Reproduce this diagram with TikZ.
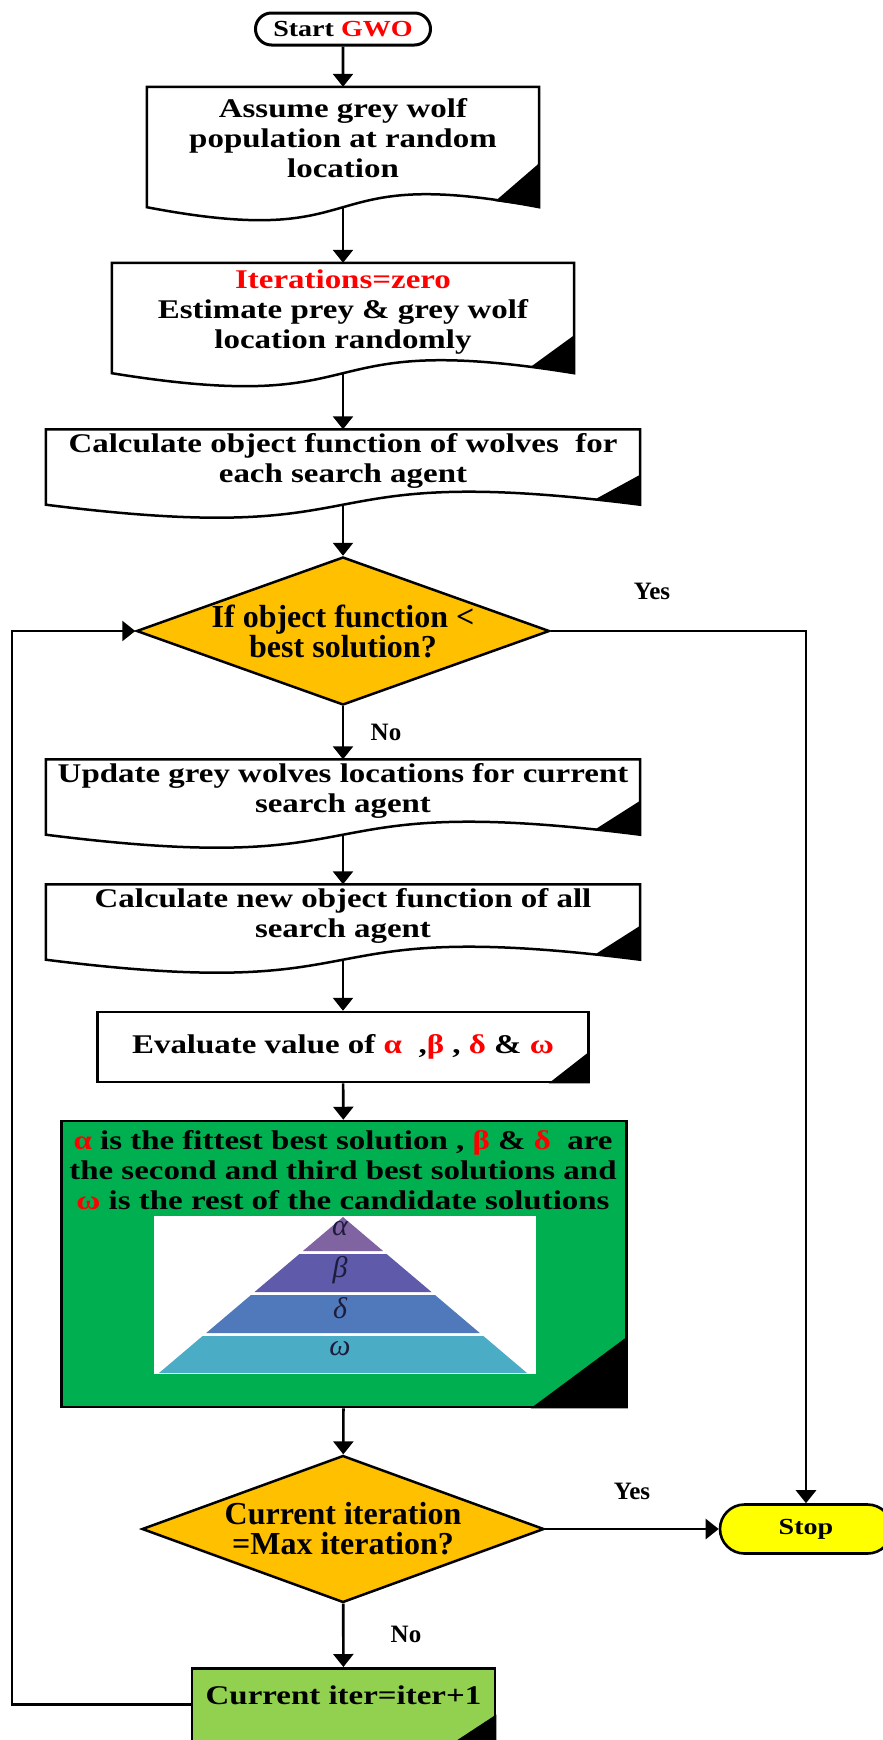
\documentclass[tikz,border=0pt]{standalone}
\usepackage{fontspec}
\setmainfont{Liberation Serif}[FakeStretch=1.22]
\newfontfamily\decfont{Liberation Serif}
\usetikzlibrary{arrows.meta,shapes.geometric,shapes.misc,calc}

\definecolor{gwored}{HTML}{FF0000}
\definecolor{decorange}{HTML}{FFC000}
\definecolor{rankgreen}{HTML}{00B050}
\definecolor{itergreen}{HTML}{92D050}
\definecolor{stopyellow}{HTML}{FFFF00}
\definecolor{pyra}{HTML}{8064A2}
\definecolor{pyrb}{HTML}{5F5BAA}
\definecolor{pyrd}{HTML}{5079BB}
\definecolor{pyrw}{HTML}{4BACC6}
\definecolor{pyrtext}{HTML}{1C1C3C}

\newcommand{\red}[1]{\textcolor{gwored}{#1}}
\newcommand{\lift}{\rule[-18pt]{0pt}{0pt}}
\newcommand{\wavebox}[2][36]{%
  \draw[line width=2.5pt] (#2.south east) -- (#2.north east) -- (#2.north west) -- (#2.south west)
    .. controls ($(#2.south west)!0.6!(#2.south east)+(0,45)$) and ($(#2.south east)!0.6!(#2.south west)+(0,-45)$) .. (#2.south east) -- cycle;
  \fill ($(#2.south east)+(0,-#1)$) -- (#2.south east) -- ($(#2.south east)+(-44,-6)$) -- cycle;}
\newcommand{\corner}[3]{%
  \fill (#1.south east) -- ++(-#2,0) -- ($(#1.south east)+(0,-#3)$) -- cycle;}

\begin{document}
\begin{tikzpicture}[x=1pt,y=-1pt,>={Triangle[length=13pt,width=20pt]},
  every node/.style={font=\fontsize{27}{30}\selectfont\bfseries},
  docbox/.style={align=center,inner sep=0pt},
  plainbox/.style={rectangle,draw,line width=2.5pt,inner sep=0pt,align=center},
  decision/.style={diamond,draw,line width=2.5pt,fill=decorange,inner sep=0pt,aspect=2.8,align=center,
    font=\decfont\fontsize{32}{30}\selectfont\bfseries},
  answer/.style={font=\decfont\fontsize{25}{25}\selectfont\bfseries},
  rankletter/.style={text=pyrtext,inner sep=0pt,font=\decfont\fontsize{30}{30}\selectfont\itshape},
  flowline/.style={line width=2.6pt}]

\useasboundingbox[fill=white] (0,0) rectangle (883,1740);

\node[rounded rectangle,draw,line width=3pt,minimum width=175pt,minimum height=32pt,inner sep=0pt,
  font=\fontsize{23}{25}\selectfont\bfseries] (start) at (343,29) {Start \red{GWO}};

\node[docbox,minimum width=392pt,minimum height=120pt] (locate) at (343,147)
{Assume grey wolf\\population at random\\location\lift};
\wavebox[44]{locate}

\node[docbox,minimum width=462pt,minimum height=110pt] (estimate) at (343,318)
{\red{Iterations=zero}\\Estimate prey \& grey wolf\\location randomly\lift};
\wavebox[38]{estimate}

\node[docbox,minimum width=594pt,minimum height=75pt] (objfun) at (343,467)
{Calculate object function of wolves\ \ for\\each search agent\lift};
\wavebox[30]{objfun}

\node[decision,minimum width=413pt,minimum height=148pt] (best) at (343,631)
{If object function <\\best solution?};

\node[docbox,minimum width=594pt,minimum height=75pt] (update) at (343,797)
{Update grey wolves locations for current\\search agent\lift};
\wavebox[34]{update}

\node[docbox,minimum width=594pt,minimum height=75pt] (newfun) at (343,922)
{Calculate new object function of all\\search agent\lift};
\wavebox[34]{newfun}

\node[plainbox,minimum width=491pt,minimum height=70pt] (evaluate) at (343,1047)
{Evaluate value of \red{α}\ \ ,\red{β} , \red{δ} \& \red{ω}};
\corner{evaluate}{41}{32}

\node[plainbox,fill=rankgreen,minimum width=565pt,minimum height=286pt] (rank) at (344,1264) {};
\node[align=center,inner sep=0pt] (ranktext) at (343,1170)
{\red{α} is the fittest best solution , \red{β} \& \red{δ}\ \ are\\
the second and third best solutions and\\
\red{ω} is the rest of the candidate solutions};
\node[fill=white,minimum width=382pt,minimum height=158pt,inner sep=0pt] (pyramid) at (345,1295) {};
\fill[pyra] (343,1217) -- (383.1,1251) -- (302.9,1251) -- cycle;
\fill[pyrb] (299.4,1254) -- (386.6,1254) -- (431.5,1292) -- (254.5,1292) -- cycle;
\fill[pyrd] (251,1295) -- (435,1295) -- (479.8,1333) -- (206.2,1333) -- cycle;
\fill[pyrw] (202.6,1336) -- (483.4,1336) -- (527,1373) -- (159,1373) -- cycle;
\node[rankletter] (alpha) at (340,1229) {α};
\node[rankletter] (beta) at (340,1270) {β};
\node[rankletter] (delta) at (340,1308) {δ};
\node[rankletter] (omega) at (340,1349) {ω};
\corner{rank}{97}{72}

\node[decision,minimum width=402pt,minimum height=147pt] (maxiter) at (343,1529)
{Current iteration\\=Max iteration?};

\node[rounded rectangle,draw,line width=2.6pt,fill=stopyellow,minimum width=172pt,minimum height=49pt,
  inner sep=0pt,font=\fontsize{23}{25}\selectfont\bfseries] (stop) at (806,1529) {Stop};

\node[plainbox,fill=itergreen,anchor=north,minimum width=303pt,text height=20pt,text depth=33pt,
  inner ysep=16pt] (inc) at (343.5,1667) {Current iter=iter+1};
\corner{inc}{61}{40}

\coordinate (back) at (12,0);

\draw[->,flowline] (start) -- (locate);
\draw[->,flowline] (locate) -- (estimate);
\draw[->,flowline] (estimate) -- (objfun);
\draw[->,flowline] (objfun) -- (best);
\draw[->,flowline] (best) -- (update);
\node[answer] (no1) at (386,732) {No};
\draw[->,flowline] (update) -- (newfun);
\draw[->,flowline] (newfun) -- (evaluate);
\draw[->,flowline] (evaluate) -- (rank);
\draw[->,flowline] (rank) -- (maxiter);
\draw[->,flowline] (maxiter) -- (inc);
\node[answer] (no2) at (406,1634) {No};
\draw[->,flowline] (maxiter.east) -- (stop.west);
\node[answer] (yes2) at (632,1491) {Yes};
\draw[->,flowline] (best.east) -| (stop.north);
\node[answer] (yes1) at (652,591) {Yes};
\draw[->,flowline] (inc.base west) -- (inc.base west -| back) |- (best.west);
\end{tikzpicture}
\end{document}
